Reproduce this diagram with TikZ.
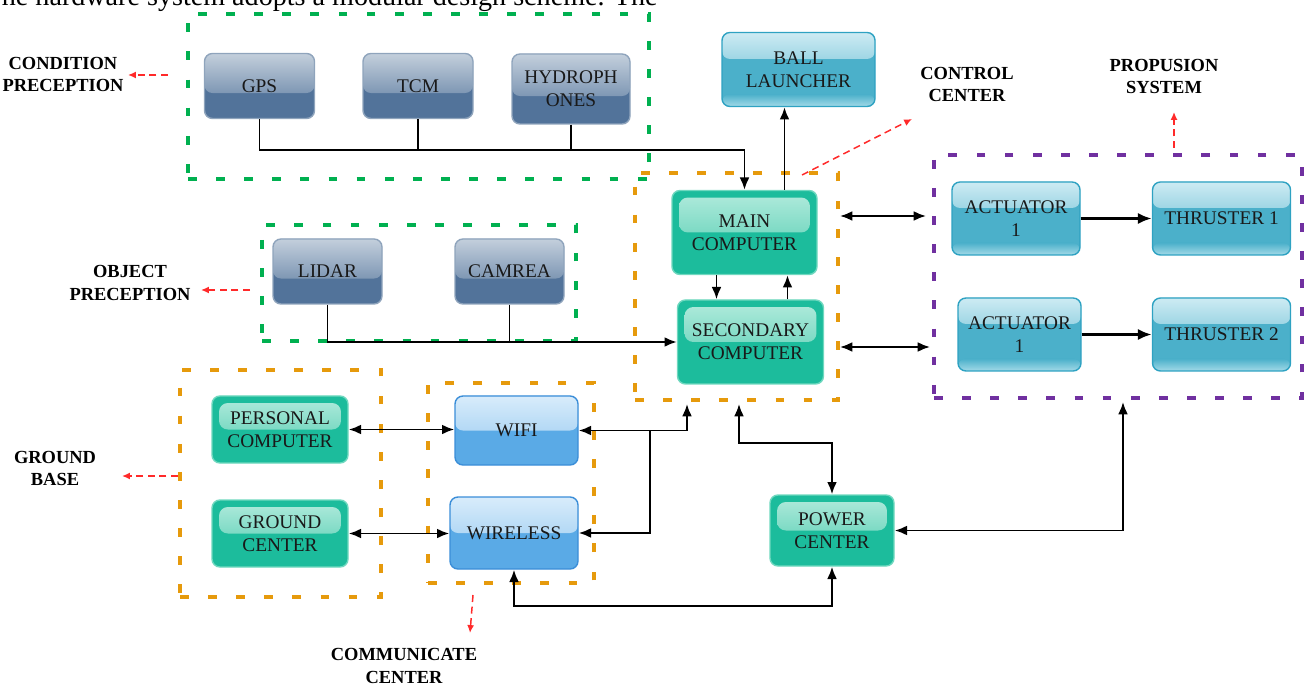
\documentclass[tikz,border=0pt]{standalone}
\usepackage{fontspec}
\setmainfont{Liberation Serif}
\usetikzlibrary{arrows.meta}

\definecolor{slatebase}{HTML}{52739A}
\definecolor{slatetop}{HTML}{C3CFDC}
\definecolor{slateline}{HTML}{8FA4BC}
\definecolor{tealbase}{HTML}{1CBC9C}
\definecolor{tealtop}{HTML}{B3EBDD}
\definecolor{tealmid}{HTML}{45C9AB}
\definecolor{tealline}{HTML}{6FD8BF}
\definecolor{cyanbase}{HTML}{4BB0CA}
\definecolor{cyantop}{HTML}{CDEBF3}
\definecolor{cyanlow}{HTML}{A3DAE8}
\definecolor{cyanline}{HTML}{2EA2C2}
\definecolor{bluebase}{HTML}{5AAAE6}
\definecolor{bluetop}{HTML}{D8ECFB}
\definecolor{bluemid}{HTML}{8EC5EF}
\definecolor{blueline}{HTML}{3B8ED8}
\definecolor{grpgreen}{HTML}{00B050}
\definecolor{grporange}{HTML}{E69A0C}
\definecolor{grppurple}{HTML}{7030A0}
\definecolor{notered}{HTML}{FF2A2A}

\tikzset{
  box/.style={rounded corners=4.5pt, inner sep=0pt, align=center, text=black!90,
    font=\fontsize{11}{13}\selectfont, line width=0.8pt},
  sz/.style 2 args={minimum width=#1*0.02cm, minimum height=#2*0.02cm},
  slate/.style={box, draw=slateline, fill=slatebase, path picture={
      \shade[top color=slatetop, bottom color=slatebase]
        (path picture bounding box.north west) rectangle
        ([yshift=-4pt]path picture bounding box.east);}},
  teal/.style={box, draw=tealline, fill=tealbase, path picture={
      \shade[top color=tealtop, bottom color=tealmid, rounded corners=5pt]
        ([xshift=4pt, yshift=-4pt]path picture bounding box.north west) rectangle
        ([xshift=-4pt]path picture bounding box.east);}},
  cyanbox/.style={box, draw=cyanline, fill=cyanbase, path picture={
      \shade[top color=cyantop, bottom color=cyanbase]
        (path picture bounding box.north west) rectangle
        ([yshift=6pt]path picture bounding box.east);
      \shade[top color=cyanbase, bottom color=cyanlow]
        ([yshift=7pt]path picture bounding box.south west) rectangle
        (path picture bounding box.south east);}},
  bluebox/.style={box, draw=blueline, fill=bluebase, path picture={
      \shade[top color=bluetop, bottom color=bluemid]
        (path picture bounding box.north west) rectangle
        (path picture bounding box.east);}},
  grp/.style={draw=#1, line width=2.3pt, dash pattern=on 5pt off 11pt,
    inner sep=0pt},
  tag/.style={font=\bfseries\fontsize{10.5}{13}\selectfont, align=center,
    inner sep=1pt},
  link/.style={draw=black, line width=1.1pt, >={Latex[length=7pt,width=5.6pt]}},
  push/.style={draw=black, line width=2pt, ->, >={Latex[length=8pt,width=6.5pt]}},
  note/.style={draw=notered, line width=0.85pt, dash pattern=on 4pt off 2.6pt,
    ->, >={Latex[length=4.5pt,width=4pt]}}
}

\begin{document}
\begin{tikzpicture}[x=0.02cm, y=-0.02cm]
\useasboundingbox (0,0) rectangle (1307,685);

% cut-off sentence above the figure
\node[anchor=base east, inner sep=0pt, font=\fontsize{16}{18}\selectfont] (intro)
  at (658,6) {he hardware system adopts a modular design scheme. The};

% module groups
\node[grp=grpgreen, sz={461}{165}] (condgrp) at (418.5,96.5) {};
\node[grp=grpgreen, sz={314}{116}] (objgrp) at (419,283) {};
\node[grp=grporange, sz={203}{227}] (ctrlgrp) at (736.5,286.5) {};
\node[grp=grppurple, sz={368}{243}] (propgrp) at (1118,276.5) {};
\node[grp=grporange, sz={201}{227}] (basegrp) at (280.5,483.5) {};
\node[grp=grporange, sz={166}{200}] (commgrp) at (511,483) {};

% boxes
\node[slate, sz={110}{65}] (gps) at (259.5,86) {GPS};
\node[slate, sz={110}{65}] (tcm) at (418,86) {TCM};
\node[slate, sz={118}{70}] (hydro) at (571,89) {HYDROPH\\ONES};
\node[slate, sz={109}{65}] (lidar) at (327.5,271.5) {LIDAR};
\node[slate, sz={109}{65}] (camrea) at (509.5,271.5) {CAMREA};
\node[cyanbox, sz={153}{74}] (ball) at (798.5,69.5) {BALL\\LAUNCHER};
\node[teal, sz={145}{84}] (main) at (744.5,232.5) {MAIN\\COMPUTER};
\node[teal, sz={146}{84}] (second) at (750.5,342) {SECONDARY\\COMPUTER};
\node[cyanbox, sz={128}{73}] (act1) at (1016,218.5) {ACTUATOR\\1};
\node[cyanbox, sz={138}{73}] (thr1) at (1221.5,218.5) {THRUSTER 1};
\node[cyanbox, sz={123}{73}] (act2) at (1019.5,334.5) {ACTUATOR\\1};
\node[cyanbox, sz={138}{73}] (thr2) at (1221.5,334.5) {THRUSTER 2};
\node[teal, sz={136}{67}] (pc) at (280,429.5) {PERSONAL\\COMPUTER};
\node[teal, sz={136}{67}] (gc) at (280,533.5) {GROUND\\CENTER};
\node[bluebox, sz={123}{69}] (wifi) at (516.5,430.5) {WIFI};
\node[bluebox, sz={128}{72}] (wireless) at (514,533) {WIRELESS};
\node[teal, sz={124}{71}] (power) at (832,530.5) {POWER\\CENTER};

% group names
\node[tag] (condlbl) at (63,74.5) {CONDITION\\PRECEPTION};
\node[tag] (objlbl) at (130,283) {OBJECT\\PRECEPTION};
\node[tag] (ctrllbl) at (967,84.5) {CONTROL\\CENTER};
\node[tag] (proplbl) at (1164,76.5) {PROPUSION\\SYSTEM};
\node[tag] (baselbl) at (55,468.5) {GROUND\\BASE};
\node[tag] (commlbl) at (404,666) {COMMUNICATE\\CENTER};

% sensor buses
\coordinate (cbus) at (744.5,150);
\draw[link,->] (gps.south) |- (cbus) -- (main.north);
\draw[link] (tcm.south) -- (tcm.south |- cbus);
\draw[link] (hydro.south) -- (hydro.south |- cbus);
\draw[link,->] (lidar.south) |- (second.west);
\draw[link] (camrea.south) -- (camrea.south |- second.west);

% control center
\draw[link,->] ([xshift=0.8cm]main.north) -- ([xshift=0.8cm]main.north |- ball.south);
\draw[link,->] ([xshift=-0.56cm]main.south) -- ([xshift=-0.56cm]main.south |- second.north);
\draw[link,->] ([xshift=0.74cm]second.north) -- ([xshift=0.74cm]second.north |- main.south);
\draw[link,<->] ([yshift=0.05cm]ctrlgrp.east |- act1) -- ([xshift=-0.12cm,yshift=0.05cm]propgrp.west |- act1);
\draw[link,<->] ([yshift=-0.1cm]ctrlgrp.east |- second) -- ([xshift=-0.04cm,yshift=-0.1cm]propgrp.west |- second);

% propulsion
\draw[push] (act1.east) -- (thr1.west);
\draw[push] (act2.east) -- (thr2.west);

% ground base and communication
\draw[link,<->] (pc.east) -- (pc.east -| wifi.west);
\draw[link,<->] (gc.east) -- (gc.east -| wireless.west);
\draw[link,<->] (wifi.east) -| ([xshift=-0.99cm,yshift=-0.04cm]ctrlgrp.south);
\coordinate (wbr) at (650,430.5);
\draw[link,->] (wbr) |- (wireless.east);

% power
\draw[link,<->] ([xshift=0.05cm,yshift=-0.04cm]ctrlgrp.south) -- ++(0,39) -| (power.north);
\draw[link,<->] (power.east) -| ([xshift=0.1cm,yshift=-0.04cm]propgrp.south);
\draw[link,<->] (wireless.south) -- ++(0,36) -| (power.south);

% pointers to group names
\coordinate (condsrc) at (168,75);
\draw[note] (condsrc) -- ++(-40,0);
\coordinate (objsrc) at (250,290);
\draw[note] (objsrc) -- ++(-49,0);
\coordinate (ctrlsrc) at (802,175);
\draw[note] (ctrlsrc) -- ++(110,-56);
\coordinate (propsrc) at (1174,148);
\draw[note] (propsrc) -- ++(0,-36);
\coordinate (basesrc) at (178,476);
\draw[note] (basesrc) -- ++(-56,0);
\coordinate (commsrc) at (473,595);
\draw[note] (commsrc) -- ++(-3,38);
\end{tikzpicture}
\end{document}
